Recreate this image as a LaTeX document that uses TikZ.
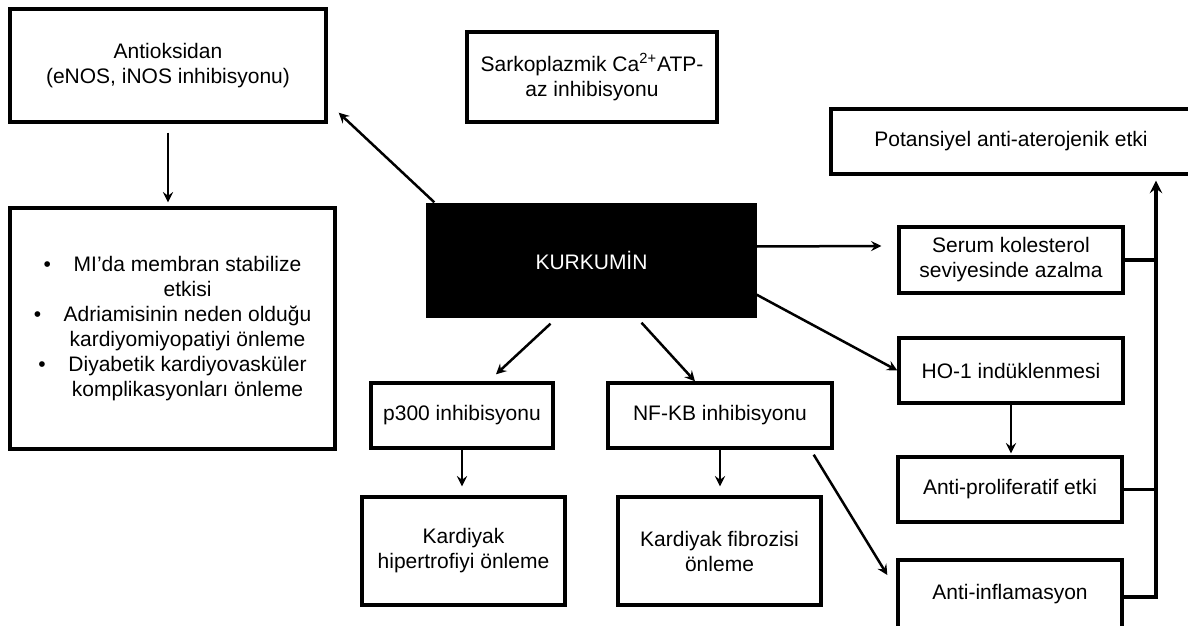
\documentclass[tikz,border=0pt]{standalone}
\usepackage{fontspec}
\setmainfont{Liberation Sans}
\usetikzlibrary{calc}
\tikzset{
    box/.style={draw, line width=1.7pt, fill=white, align=center, inner sep=0pt,
        font=\fontsize{10.5pt}{12.5pt}\selectfont},
    arr/.style={-stealth, line width=1.25pt},
}
\begin{document}
\begin{tikzpicture}[x=0.5pt, y=-0.5pt]
    \useasboundingbox (0,0) rectangle (1188,626);
    \node[box, minimum width=158pt, minimum height=56.5pt] (anti) at (168,65.5) {Antioksidan\\(eNOS, iNOS inhibisyonu)};
    \node[box, minimum width=125pt, minimum height=45pt] (sark) at (592,77) {Sarkoplazmik Ca\textsuperscript{2+}ATP-\\az inhibisyonu};
    \node[box, minimum width=180pt, minimum height=32.5pt] (pot) at (1011,141.5) {Potansiyel anti-aterojenik etki};
    \node[box, fill=black, text=white, minimum width=163.5pt, minimum height=55.5pt] (kurk) at (591.5,260.5) {KURKUMİN};
    \node[box, minimum width=162.5pt, minimum height=120.5pt] (bul) at (172.5,328.5) {%
        \makebox[15pt][l]{\textbullet}MI’da membran stabilize\\
        \hspace*{15pt}etkisi\\
        \makebox[15pt][l]{\textbullet}Adriamisinin neden olduğu\\
        \hspace*{15pt}kardiyomiyopatiyi önleme\\
        \makebox[15pt][l]{\textbullet}Diyabetik kardiyovasküler\\
        \hspace*{15pt}komplikasyonları önleme};
    % right column
    \node[box, minimum width=112pt, minimum height=33pt] (serum) at (1011,260) {Serum kolesterol\\seviyesinde azalma};
    \node[box, minimum width=112pt, minimum height=32.5pt] (ho) at (1011,370.5) {HO-1 indüklenmesi};
    \node[box, minimum width=112pt, minimum height=32.5pt] (prolif) at (1010,489.5) {Anti-proliferatif etki};
    \node[box, minimum width=112pt, minimum height=34pt] (infl) at (1010,594) {Anti-inflamasyon};
    % lower middle
    \node[box, minimum width=91pt, minimum height=32.5pt] (p300) at (462,415.5) {p300 inhibisyonu};
    \node[box, minimum width=112pt, minimum height=32.5pt] (nfkb) at (720,415.5) {NF-KB inhibisyonu};
    \node[box, minimum width=101.5pt, minimum height=54pt] (hiper) at (463.5,551) {Kardiyak\\hipertrofiyi önleme};
    \node[box, minimum width=101.5pt, minimum height=54pt] (fibro) at (719.5,551) {Kardiyak fibrozisi\\önleme};

    \draw[arr] ($(kurk.north west)+(8,-1)$) -- ($(anti.south east)+(11,-11)$);
    \draw[arr, shorten <=4.5pt, shorten >=2pt] (anti.south) -- (anti.south |- bul.north);
    \draw[arr] ($(kurk.east)+(0,-14)$) -- ($(serum.west)+(-16,-14)$);
    \draw[arr] ($(kurk.south east)+(0,-23)$) -- (ho.west);
    \draw[arr] ($(kurk.south)+(-41,6)$) -- ($(p300.north)+(34,-7)$);
    \draw[arr] ($(kurk.south)+(50,5)$) -- ($(nfkb.north)+(-25,0)$);
    \draw[arr, shorten >=4.5pt] (p300.south) -- (p300.south |- hiper.north);
    \draw[arr, shorten >=4.5pt] (nfkb.south) -- (nfkb.south |- fibro.north);
    \draw[arr] ($(nfkb.south east)+(-20,5)$) -- ($(infl.west)+(-9,-19)$);
    \draw[arr, shorten >=1pt] (ho.south) -- (ho.south |- prolif.north);
    % collecting line
    \coordinate (bus) at ($(pot.south)+(145,5)$);
    \draw[arr, line width=1.7pt] ($(infl.east)+(0,3)$) -| (bus);
    \draw[line width=1.8pt] (serum.east) -- (serum.east -| bus);
    \draw[line width=1.8pt] (prolif.east) -- (prolif.east -| bus);
\end{tikzpicture}
\end{document}
